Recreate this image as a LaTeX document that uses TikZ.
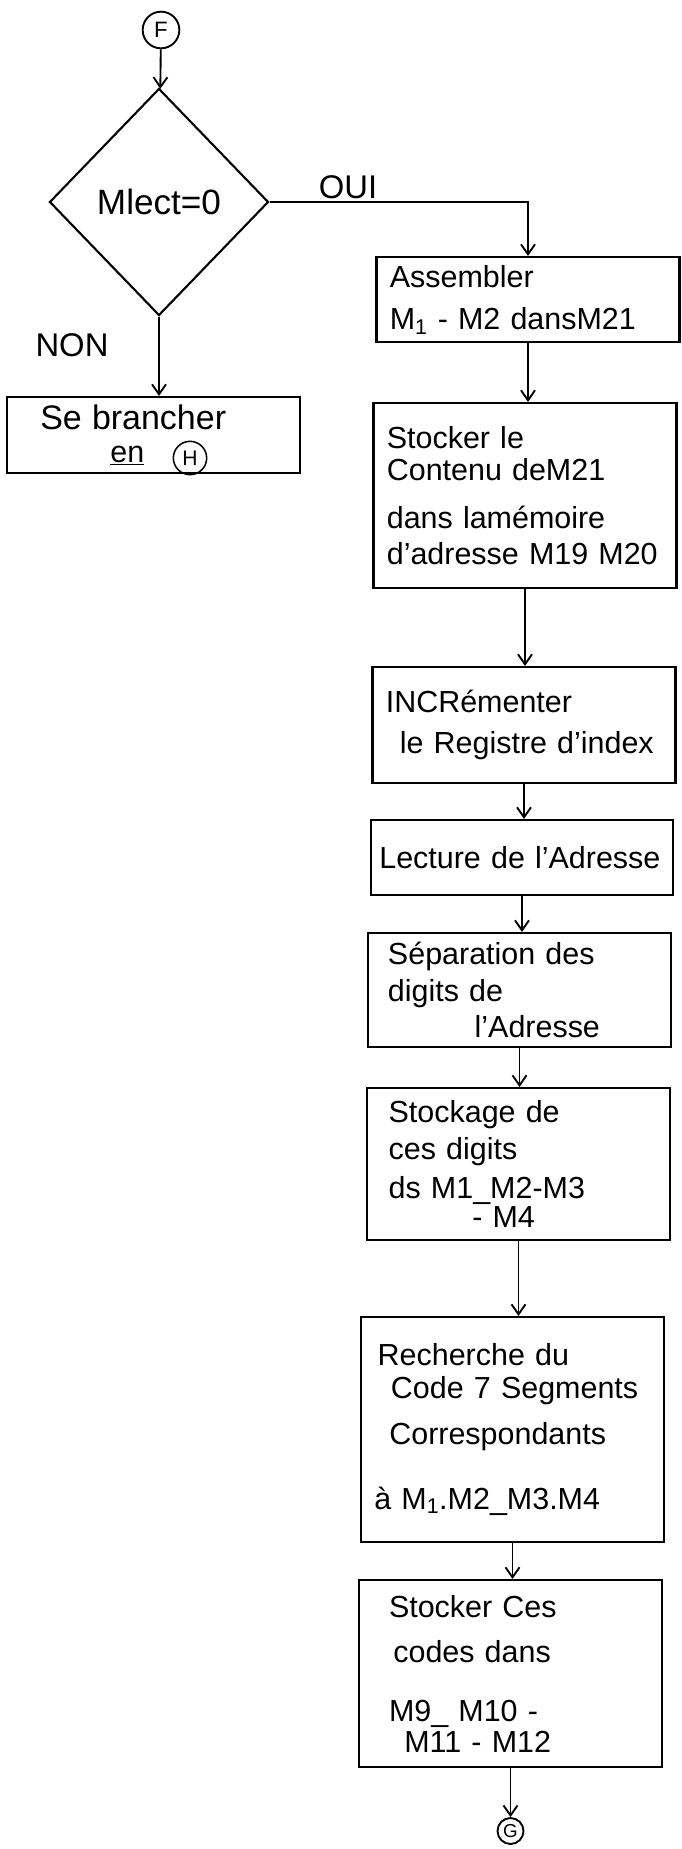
\documentclass[tikz,border=0pt]{standalone}
\usepackage{fontspec}
\setmainfont{Liberation Sans}
\usetikzlibrary{positioning, arrows.meta, shapes.geometric}

\begin{document}
\begin{tikzpicture}[
    x=0.03cm, y=-0.03cm,
    every node/.style={font=\fontsize{26}{31}\selectfont},
    bloc/.style={draw, line width=1.8pt, align=left, inner xsep=0.4cm, inner ysep=0.1cm, text width=8.29cm},
    test/.style={draw, line width=1.8pt, diamond, inner sep=0pt, minimum width=6.57cm, minimum height=6.81cm, font=\fontsize{30}{36}\selectfont},
    renvoi/.style={draw, line width=1.6pt, circle, inner sep=0pt, font=\fontsize{19}{22}\selectfont},
    etiq/.style={font=\fontsize{28}{34}\selectfont},
    fl/.style={->, line width=1.6pt},
    >={Straight Barb[length=0.3cm, width=0.42cm]},
  ]
  \useasboundingbox (0,0) rectangle (682,1849);

  % test de lecture
  \node[renvoi, minimum size=1.1cm] (F) at (161,30) {F};
  \node[test] (lect) at (159,202) {Mlect=0};
  \node[etiq] (oui) at (348,187) {OUI};
  \node[etiq] (non) at (72,345) {NON};
  \node[bloc, text width=7.99cm, minimum height=2.28cm] (brch) at (153.5,435)
    {\hspace*{0.6cm}{\fontsize{29}{31}\selectfont Se brancher}\\[-0.12cm]\hspace*{2.7cm}\underline{en}};
  \node[renvoi, minimum size=1.0cm, line width=1.3pt, font=\fontsize{18}{21}\selectfont] (H) at (190,458) {H};

  % branche OUI
  \node[bloc, minimum height=2.55cm] (asm) at (528,299.5)
    {Assembler\\[0.18cm]M\textsubscript{1} - M2 dansM21};
  \node[bloc, minimum height=5.55cm] (stk) at (525,495.5)
    {Stocker le\\[-0.12cm]Contenu deM21\\[0.33cm]dans lamémoire\\d'adresse M19 M20};
  \node[bloc, minimum height=3.48cm] (incr) at (524,725)
    {INCRémenter\\[0.12cm]\hspace*{0.42cm}le Registre d'index};
  \node[bloc, minimum height=2.25cm, inner xsep=0.25cm, text width=8.56cm] (adr) at (522,857.5)
    {Lecture de l'Adresse};
  \node[bloc, minimum height=3.42cm] (sep) at (519.5,990)
    {\hspace*{0.2cm}Séparation des\\\hspace*{0.2cm}digits de\\\hspace*{2.8cm}l'Adresse};
  \node[bloc, minimum height=4.56cm] (stg) at (518.5,1164)
    {\hspace*{0.25cm}Stockage de\\\hspace*{0.25cm}ces digits\\[0.1cm]\hspace*{0.25cm}ds M1\_M2-M3\\[-0.24cm]\hspace*{2.76cm}- M4};
  \node[bloc, minimum height=6.75cm] (rech) at (512.5,1429.5)
    {\hspace*{0.1cm}Recherche du\\[-0.1cm]\hspace*{0.5cm}Code 7 Segments\\[0.27cm]\hspace*{0.45cm}Correspondants\\[0.87cm]à M\textsubscript{1}.M2\_M3.M4};
  \node[bloc, minimum height=5.61cm] (ces) at (510.5,1673.5)
    {\hspace*{0.5cm}Stocker Ces\\[0.27cm]\hspace*{0.63cm}codes dans\\[0.69cm]\hspace*{0.5cm}M9\_ M10 -\\[-0.18cm]\hspace*{0.96cm}M11 - M12};
  \node[renvoi, minimum size=0.78cm, font=\fontsize{16}{19}\selectfont] (G) at (510.5,1831) {G};

  \draw[fl] (F) -- (lect);
  \draw[fl] (lect.east) -| (asm.north);
  \draw[fl] (lect.south) -- (lect.south |- brch.north);
  \draw[fl] (asm.south) -- (asm.south |- stk.north);
  \draw[fl] (stk.south) -- (stk.south |- incr.north);
  \draw[fl] (incr.south) -- (incr.south |- adr.north);
  \draw[fl] (adr.south) -- (adr.south |- sep.north);
  \draw[fl] (sep.south) -- (sep.south |- stg.north);
  \draw[fl] (stg.south) -- (stg.south |- rech.north);
  \draw[fl] (rech.south) -- (rech.south |- ces.north);
  \draw[fl] (ces.south) -- (G);
\end{tikzpicture}
\end{document}
